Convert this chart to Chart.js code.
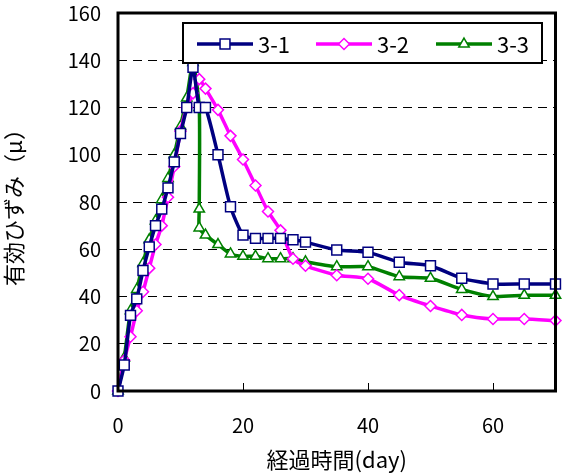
<!DOCTYPE html>
<html lang="ja">
<head>
<meta charset="UTF-8">
<title>有効ひずみ</title>
<script src="https://cdn.jsdelivr.net/npm/chart.js"></script>
<style>
  html, body { margin: 0; padding: 0; background: #fff; }
  #wrap { width: 564px; height: 475px; }
</style>
</head>
<body>
<div id="wrap"><canvas id="chart" width="564" height="475"></canvas></div>
<script>
// 経過時間 (day) と 有効ひずみ (μ)
const days1 = [0, 1, 2, 3, 4, 5, 6, 7, 8, 9, 10, 11, 12, 13, 14, 16, 18, 20, 22, 24, 26, 28, 30, 35, 40, 45, 50, 55, 60, 65, 70];
const vals1 = [0, 11, 32, 39, 51, 61, 70, 77, 86, 97, 109, 120, 137, 120, 120, 100, 78, 66, 64.6, 64.6, 64.6, 64, 63, 59.7, 58.7, 54.5, 53, 47.7, 45.3, 45.3, 45.3];

const days2 = [0, 1, 2, 3, 4, 5, 6, 7, 8, 9, 10, 11, 12, 13, 14, 16, 18, 20, 22, 24, 26, 28, 30, 35, 40, 45, 50, 55, 60, 65, 70];
const vals2 = [0, 13, 23, 34, 42, 52, 62, 70, 82, 95, 110, 120, 126, 132, 128, 119, 108, 98, 87, 76, 68, 56, 53, 49, 47.5, 40.6, 36, 32.2, 30.5, 30.5, 29.8];

const days3 = [0, 1, 2, 3, 4, 5, 6, 7, 8, 9, 10, 11, 12, 13, 13, 13, 14, 16, 18, 20, 22, 24, 26, 28, 30, 35, 40, 45, 50, 55, 60, 65, 70];
const vals3 = [0, 14, 34, 43, 54, 64, 72, 81, 90, 100, 112, 124, 139, 120, 77, 69, 66, 62, 58, 57, 57, 56, 56, 56, 54.7, 52.6, 52.6, 48.4, 47.7, 43, 40, 40.5, 40.5];

const seriesNames = ['3-1', '3-2', '3-3'];
const xTicks = [0, 20, 40, 60];
const yTicks = [0, 20, 40, 60, 80, 100, 120, 140, 160];

const FONT = '"Noto Sans CJK JP", "Noto Sans", sans-serif';

function pts(xs, ys) {
    return xs.map((x, i) => ({x: x, y: ys[i]}));
}

const styles = [
    {color: '#000080', point: 'rect', r: 7},
    {color: '#FF00FF', point: 'rectRot', r: 5.5},
    {color: '#008000', point: 'triangle', r: 6}
];

const datasets = [pts(days1, vals1), pts(days2, vals2), pts(days3, vals3)].map((d, i) => ({
    label: seriesNames[i],
    data: d,
    borderColor: styles[i].color,
    borderWidth: 3.5,
    pointStyle: styles[i].point,
    pointRadius: styles[i].r,
    pointBorderColor: styles[i].color,
    pointBackgroundColor: '#ffffff',
    pointBorderWidth: 1.5,
    tension: 0.2,
    clip: false
}));

// 枠線と内向き目盛り
const framePlugin = {
    id: 'frame',
    beforeDatasetsDraw(chart) {
        const {ctx, chartArea: a, scales} = chart;
        ctx.save();
        ctx.strokeStyle = '#000';
        ctx.lineWidth = 1;
        xTicks.forEach(t => {
            if (t === 0) return;
            const x = Math.round(scales.x.getPixelForValue(t)) + 0.5;
            ctx.beginPath();
            ctx.moveTo(x, a.bottom);
            ctx.lineTo(x, a.bottom - 8);
            ctx.stroke();
        });
        ctx.restore();
    },
    afterDatasetsDraw(chart) {
        const {ctx, chartArea: a} = chart;
        ctx.save();
        ctx.strokeStyle = '#000';
        ctx.lineWidth = 3;
        ctx.strokeRect(a.left, a.top, a.right - a.left, a.bottom - a.top);

        // 凡例
        const bx = 183, by = 23, bw = 359, bh = 40;
        ctx.fillStyle = '#fff';
        ctx.fillRect(bx, by, bw, bh);
        ctx.lineWidth = 2;
        ctx.strokeRect(bx, by, bw, bh);
        const lineStarts = [197, 316, 436];
        const cy = by + bh / 2 + 1;
        ctx.font = '22px ' + FONT;
        ctx.textBaseline = 'middle';
        seriesNames.forEach((name, i) => {
            const s = styles[i];
            const x0 = lineStarts[i];
            ctx.strokeStyle = s.color;
            ctx.lineWidth = 3.5;
            ctx.beginPath();
            ctx.moveTo(x0, cy);
            ctx.lineTo(x0 + 56, cy);
            ctx.stroke();
            ctx.lineWidth = 1.5;
            ctx.fillStyle = '#fff';
            Chart.helpers.drawPoint(ctx, {pointStyle: s.point, radius: s.r, borderWidth: 1.5}, x0 + 28, cy);
            ctx.fillStyle = '#000';
            ctx.fillText(name, x0 + 61, cy + 1);
        });
        ctx.restore();
    }
};

new Chart(document.getElementById('chart'), {
    type: 'line',
    data: {datasets: datasets},
    options: {
        responsive: false,
        animation: false,
        layout: {padding: {top: 13, right: 4, left: 0, bottom: 0}},
        plugins: {
            legend: {display: false},
            tooltip: {enabled: false}
        },
        scales: {
            x: {
                type: 'linear',
                min: 0,
                max: 70,
                afterBuildTicks: s => { s.ticks = xTicks.map(v => ({value: v})); },
                afterFit: s => { s.height = 84; },
                grid: {display: false, drawTicks: false},
                border: {display: false},
                ticks: {
                    color: '#000',
                    padding: 22,
                    font: {family: FONT, size: 20}
                },
                title: {
                    display: true,
                    text: '経過時間(day)',
                    color: '#000',
                    font: {family: FONT, size: 22},
                    padding: {top: 0, bottom: 2}
                }
            },
            y: {
                min: 0,
                max: 160,
                afterBuildTicks: s => { s.ticks = yTicks.map(v => ({value: v})); },
                afterFit: s => { s.width = 118; s.paddingTop = 0; s.paddingBottom = 0; },
                grid: {color: '#000', lineWidth: 1, drawTicks: false},
                border: {display: false, dash: [9, 6]},
                ticks: {
                    color: '#000',
                    padding: 17,
                    font: {family: FONT, size: 20}
                },
                title: {
                    display: true,
                    text: '有効ひずみ（μ）',
                    color: '#000',
                    font: {family: FONT, size: 22},
                    padding: {top: 0, bottom: 8}
                }
            }
        }
    },
    plugins: [framePlugin]
});
</script>
</body>
</html>
